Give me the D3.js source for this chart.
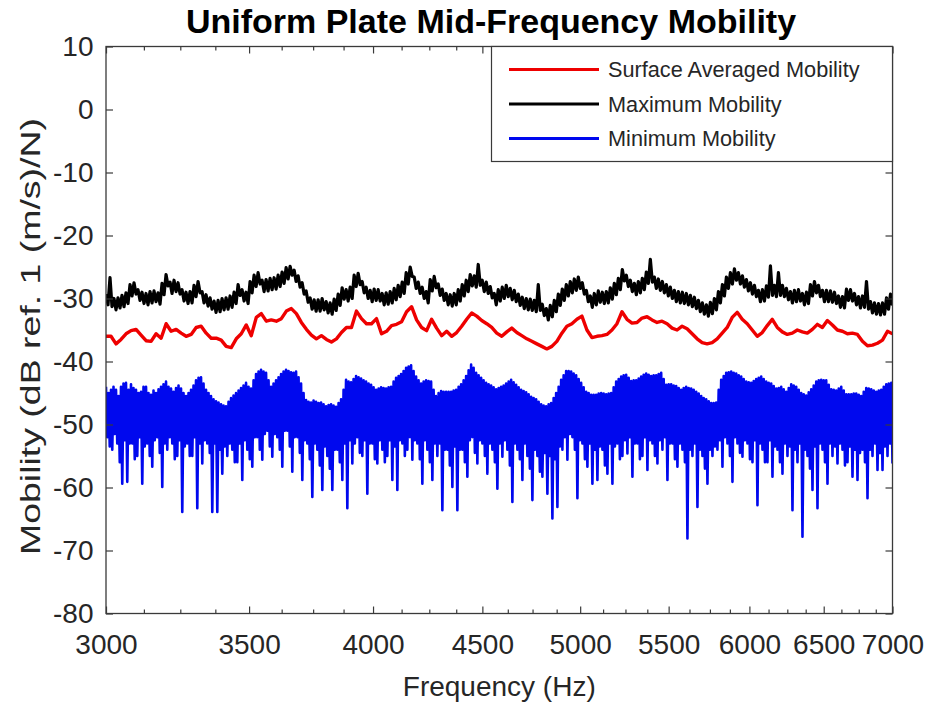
<!DOCTYPE html>
<html>
<head>
<meta charset="utf-8">
<script src="https://cdn.jsdelivr.net/npm/d3@7"></script>
<style>
  html, body { margin: 0; padding: 0; background: #fff; }
  svg { display: block; font-family: "Liberation Sans", Arial, Helvetica, sans-serif; }
</style>
</head>
<body>
<svg id="chart" width="927" height="705"></svg>
<script>
// ---- data -------------------------------------------------------------
const freqRange = [3000, 7000];
const xMajorTicks = [3000, 3500, 4000, 4500, 5000, 5500, 6000, 6500, 7000];
const xMinorTicks = [3125, 3250, 3375, 3625, 3750, 3875, 4125, 4250, 4375,
  4625, 4750, 4875, 5125, 5250, 5375, 5625, 5750, 5875, 6125, 6250, 6375,
  6625, 6750, 6875];
const yTicks = [-80, -70, -60, -50, -40, -30, -20, -10, 0, 10];
const seriesNames = ["Surface Averaged Mobility", "Maximum Mobility", "Minimum Mobility"];

// Surface averaged mobility, dB ref. 1 (m/s)/N (log-spaced frequency samples)
const surfaceAveraged = [
  -36.0,-36.0,-37.2,-36.5,-35.6,-35.1,-34.9,-35.8,-36.7,-36.8,
  -35.6,-36.3,-34.0,-35.2,-34.9,-35.5,-36.0,-35.7,-34.6,-34.4,
  -35.5,-36.3,-36.3,-36.6,-37.6,-37.8,-36.4,-35.6,-34.2,-35.9,
  -33.0,-32.4,-33.6,-33.4,-33.6,-33.2,-32.0,-31.6,-32.4,-33.8,
  -34.9,-35.8,-36.4,-35.9,-36.5,-36.9,-36.4,-35.4,-34.6,-34.6,
  -32.0,-33.2,-34.0,-34.0,-33.2,-35.6,-35.2,-34.3,-34.1,-33.7,
  -32.1,-31.3,-33.4,-34.6,-35.1,-33.3,-34.7,-35.9,-35.2,-36.0,
  -35.4,-34.4,-33.3,-32.3,-32.8,-33.5,-34.0,-34.6,-35.5,-36.0,
  -35.3,-34.7,-35.4,-35.9,-36.4,-36.8,-37.2,-37.6,-38.0,-37.6,
  -36.8,-35.5,-34.4,-34.0,-33.3,-32.8,-35.0,-36.2,-36.0,-35.9,
  -35.7,-35.0,-34.0,-32.1,-33.3,-33.9,-33.8,-33.1,-32.9,-33.4,
  -33.8,-33.6,-34.0,-34.7,-35.0,-34.4,-34.8,-35.6,-36.4,-37.0,
  -37.2,-37.0,-36.4,-35.5,-34.6,-33.0,-32.2,-33.3,-34.0,-35.0,
  -36.0,-35.4,-34.3,-33.3,-34.6,-35.3,-35.7,-35.5,-35.0,-35.3,
  -35.5,-34.9,-34.1,-34.6,-33.5,-34.2,-35.0,-35.2,-35.6,-35.5,
  -35.7,-36.8,-37.5,-37.4,-37.1,-36.6,-35.2,-35.6
];

// Maximum mobility over the plate
const maximumMobility = [
  -29.3,-31.0,-26.7,-31.3,-30.0,-31.8,-29.9,-31.5,-29.5,-31.3,-29.1,-30.8,-27.8,-29.6,-27.5,-29.3,-28.6,-30.3,-29.0,-30.8,
  -29.2,-31.0,-28.9,-30.7,-28.8,-30.5,-29.1,-30.9,-27.6,-29.4,-26.2,-28.0,-27.4,-29.2,-27.1,-28.9,-27.5,-29.3,-28.6,-30.4,
  -29.0,-30.8,-28.9,-30.7,-27.9,-29.7,-27.3,-29.1,-28.9,-30.7,-29.4,-31.2,-29.9,-31.7,-30.4,-32.2,-30.3,-32.1,-30.0,-31.8,
  -29.9,-31.7,-29.6,-31.4,-29.0,-30.8,-27.8,-29.5,-28.6,-30.4,-29.0,-30.8,-27.3,-29.1,-26.3,-28.1,-25.9,-27.7,-27.1,-28.9,
  -27.0,-28.8,-26.8,-28.6,-26.7,-28.5,-26.3,-28.1,-25.8,-27.6,-25.1,-26.9,-24.9,-26.3,-25.5,-27.3,-26.4,-28.2,-27.5,-29.3,
  -28.8,-30.6,-29.9,-31.7,-30.2,-32.0,-30.2,-32.0,-30.0,-31.8,-30.5,-32.3,-30.7,-32.5,-30.1,-31.9,-29.3,-31.1,-28.3,-30.1,
  -28.6,-30.4,-28.2,-30.0,-26.3,-28.1,-26.0,-27.8,-27.3,-29.1,-28.2,-30.0,-28.7,-30.5,-28.5,-30.3,-28.6,-30.4,-29.2,-31.0,
  -29.1,-30.9,-28.9,-30.7,-28.4,-30.2,-27.9,-29.7,-27.4,-29.2,-25.9,-27.7,-25.0,-26.5,-26.6,-28.4,-27.4,-29.2,-28.2,-30.0,
  -28.9,-30.7,-27.0,-28.8,-26.5,-28.3,-27.7,-29.5,-28.5,-30.3,-29.2,-31.0,-29.4,-31.2,-29.2,-31.0,-28.6,-30.4,-27.8,-29.6,
  -27.1,-28.9,-26.2,-28.0,-26.4,-28.2,-24.6,-27.9,-27.1,-28.9,-27.4,-29.2,-28.1,-29.9,-29.2,-31.0,-28.6,-30.4,-28.2,-30.0,
  -27.9,-29.7,-28.4,-30.2,-28.7,-30.5,-29.3,-31.1,-29.8,-31.6,-30.0,-31.8,-30.1,-31.9,-30.3,-32.1,-27.8,-31.9,-30.9,-32.7,
  -31.6,-33.4,-31.1,-32.9,-30.3,-32.1,-29.3,-31.1,-28.5,-30.3,-27.8,-29.6,-27.3,-29.1,-26.9,-28.7,-26.6,-28.4,-27.5,-29.3,
  -28.7,-30.5,-29.6,-31.4,-29.2,-31.0,-28.8,-30.6,-29.0,-30.8,-28.9,-30.7,-28.3,-30.1,-27.6,-29.4,-26.8,-28.6,-25.4,-27.2,
  -26.3,-28.1,-27.1,-28.9,-27.6,-29.4,-27.3,-29.1,-26.8,-28.6,-25.8,-27.6,-23.8,-27.4,-26.6,-28.4,-26.9,-28.7,-27.3,-29.1,
  -27.8,-29.6,-28.2,-30.0,-28.7,-30.5,-28.9,-30.7,-29.0,-30.8,-29.2,-31.0,-29.5,-31.3,-29.8,-31.6,-30.3,-32.1,-30.7,-32.5,
  -31.0,-32.8,-30.6,-32.4,-30.0,-31.8,-28.9,-30.7,-27.8,-29.6,-26.6,-28.4,-25.9,-27.7,-25.3,-27.1,-25.9,-27.7,-26.4,-28.2,
  -27.0,-28.8,-27.5,-29.3,-27.9,-29.7,-28.7,-30.5,-28.6,-30.4,-28.0,-29.8,-24.8,-29.5,-27.9,-29.7,-25.9,-29.5,-27.9,-29.7,
  -28.4,-30.2,-28.9,-30.7,-28.7,-30.5,-28.6,-30.4,-29.2,-31.0,-29.0,-30.8,-27.8,-29.6,-27.3,-29.1,-27.9,-29.7,-28.7,-30.5,
  -28.7,-30.5,-28.8,-30.6,-29.0,-30.8,-29.6,-31.4,-29.7,-31.5,-28.5,-30.3,-28.6,-30.4,-29.2,-31.0,-29.7,-31.5,-29.6,-31.4,
  -27.3,-31.7,-30.5,-32.3,-30.7,-32.5,-30.8,-32.6,-30.7,-32.5,-29.9,-31.7,-29.3,-31.1
];

// Minimum mobility over the plate
const minimumMobility = [
  -44.0,-52.0,-45.0,-53.5,-44.5,-54.0,-44.0,-51.5,-44.5,-53.0,-45.5,-56.0,-44.0,-59.4,-43.5,-52.5,
  -43.4,-59.1,-44.5,-53.0,-43.6,-53.0,-44.2,-55.5,-44.5,-55.0,-45.0,-52.0,-44.8,-59.4,-44.0,-53.5,
  -44.0,-53.0,-45.0,-55.0,-45.3,-56.7,-44.6,-52.5,-45.0,-52.0,-44.4,-54.5,-44.0,-59.9,-43.6,-53.0,
  -43.2,-54.0,-44.0,-52.0,-44.3,-53.0,-44.8,-55.5,-44.2,-55.0,-43.8,-52.5,-44.3,-63.9,-45.0,-53.5,
  -45.5,-53.0,-45.0,-55.0,-44.5,-55.0,-43.8,-52.0,-43.0,-63.3,-42.6,-53.0,-42.5,-56.2,-43.5,-52.5,
  -44.5,-53.0,-45.0,-54.5,-45.5,-63.9,-46.0,-53.0,-46.3,-63.9,-46.5,-54.0,-46.8,-57.8,-47.0,-53.5,
  -47.1,-55.0,-46.4,-53.0,-45.8,-54.0,-45.4,-56.0,-45.0,-56.0,-44.6,-53.0,-44.2,-58.8,-43.8,-52.5,
  -43.4,-54.0,-44.0,-55.5,-44.3,-56.7,-43.0,-52.0,-42.0,-52.0,-41.6,-54.0,-41.3,-55.6,-41.6,-51.5,
  -41.8,-51.0,-43.0,-53.5,-44.0,-55.1,-43.5,-51.5,-43.0,-52.0,-42.5,-54.0,-42.0,-56.7,-41.6,-51.0,
  -41.3,-51.0,-41.5,-53.5,-41.7,-57.5,-41.8,-52.0,-41.6,-52.0,-42.5,-54.5,-43.5,-58.8,-45.0,-52.5,
  -46.1,-53.0,-46.4,-55.5,-46.5,-61.5,-46.2,-53.0,-46.4,-54.0,-46.6,-56.5,-46.5,-60.4,-46.8,-53.5,
  -47.1,-55.0,-46.9,-57.0,-46.8,-60.4,-47.0,-54.0,-47.2,-54.0,-46.6,-56.0,-46.0,-58.8,-44.5,-53.0,
  -42.9,-63.3,-43.2,-52.5,-43.3,-56.2,-42.8,-53.0,-42.3,-52.0,-42.5,-54.5,-42.7,-55.0,-43.0,-52.5,
  -43.2,-61.0,-43.5,-53.0,-43.7,-53.0,-44.1,-55.5,-44.5,-56.2,-44.3,-52.5,-44.1,-54.0,-44.2,-56.0,
  -44.3,-55.0,-44.1,-52.5,-44.0,-58.8,-43.2,-53.5,-42.6,-60.4,-42.3,-52.5,-42.0,-53.0,-41.5,-55.0,
  -41.0,-54.0,-40.8,-52.0,-40.6,-55.6,-41.5,-52.5,-42.4,-53.0,-43.0,-55.5,-43.5,-59.4,-43.2,-52.5,
  -43.0,-54.0,-43.1,-56.0,-43.2,-58.8,-44.5,-53.0,-45.5,-55.0,-45.0,-53.0,-44.7,-63.6,-44.8,-54.0,
  -44.8,-54.0,-44.8,-56.5,-44.8,-59.9,-44.6,-53.5,-44.5,-63.6,-44.0,-54.0,-43.6,-54.0,-43.0,-56.0,
  -42.3,-58.3,-41.4,-52.5,-40.5,-52.0,-41.0,-54.5,-41.8,-56.2,-42.2,-52.5,-42.6,-53.0,-43.0,-55.0,
  -43.4,-57.8,-43.6,-53.0,-43.8,-54.0,-44.1,-56.0,-44.4,-60.2,-44.2,-53.0,-44.0,-55.1,-43.8,-52.5,
  -43.5,-54.0,-43.2,-56.5,-42.9,-62.3,-43.3,-53.0,-43.7,-54.0,-44.1,-55.5,-44.5,-58.8,-44.7,-53.0,
  -44.9,-55.0,-45.2,-57.0,-45.6,-62.0,-45.8,-54.0,-46.0,-55.0,-46.4,-57.5,-46.8,-58.3,-47.0,-54.5,
  -47.1,-61.0,-46.8,-55.0,-46.6,-64.9,-45.8,-55.5,-45.0,-63.1,-44.0,-53.5,-42.9,-54.0,-42.2,-52.0,
  -41.5,-55.6,-41.5,-51.5,-41.6,-52.0,-41.9,-54.0,-42.2,-61.7,-42.8,-52.5,-43.4,-53.0,-44.1,-55.5,
  -44.8,-56.7,-45.0,-53.0,-45.3,-59.4,-45.3,-54.0,-45.3,-58.8,-45.1,-53.5,-45.0,-54.0,-45.1,-56.5,
  -45.2,-57.8,-45.1,-53.0,-45.0,-59.4,-44.1,-53.5,-43.2,-53.0,-42.8,-55.5,-42.4,-55.0,-42.2,-52.5,
  -42.1,-54.6,-42.6,-52.0,-43.1,-58.3,-43.0,-53.0,-43.0,-53.0,-42.7,-55.5,-42.4,-55.0,-42.1,-52.0,
  -41.9,-57.2,-42.1,-52.5,-42.3,-53.0,-42.2,-55.0,-42.2,-56.2,-42.0,-52.5,-41.8,-54.0,-42.8,-52.0,
  -43.7,-58.8,-43.6,-53.0,-43.6,-53.0,-43.8,-55.5,-43.9,-56.7,-44.2,-53.0,-44.5,-54.0,-44.2,-56.0,
  -44.0,-68.1,-44.2,-54.0,-44.3,-55.0,-44.5,-53.0,-44.8,-63.1,-45.1,-54.0,-45.5,-55.0,-45.8,-57.0,
  -46.0,-59.4,-46.3,-54.0,-46.6,-55.0,-46.6,-53.5,-46.5,-54.0,-44.5,-52.5,-42.9,-56.7,-42.3,-52.0,
  -41.8,-53.0,-41.7,-55.0,-41.6,-59.1,-41.8,-52.0,-41.9,-53.0,-42.2,-54.5,-42.4,-55.1,-42.8,-52.5,
  -43.2,-53.0,-43.3,-55.5,-43.4,-56.0,-43.1,-52.5,-42.8,-62.8,-42.6,-53.0,-42.4,-54.0,-42.8,-56.0,
  -43.2,-56.0,-43.4,-52.5,-43.5,-58.3,-43.9,-53.5,-44.3,-54.0,-44.2,-56.0,-44.0,-57.8,-44.4,-53.0,
  -44.8,-55.0,-44.2,-53.5,-43.6,-63.6,-43.8,-54.0,-44.0,-56.0,-44.5,-53.0,-45.0,-67.8,-45.2,-54.0,
  -45.4,-55.0,-44.9,-57.0,-44.4,-60.4,-43.8,-53.5,-43.2,-63.3,-43.0,-53.0,-42.9,-54.0,-43.0,-56.0,
  -43.0,-59.4,-43.7,-53.0,-44.4,-55.0,-44.5,-53.5,-44.6,-56.2,-44.3,-53.0,-44.0,-54.0,-44.6,-56.5,
  -45.2,-56.0,-45.2,-53.5,-45.2,-58.3,-45.1,-54.0,-45.1,-58.8,-45.3,-54.5,-45.5,-54.0,-44.8,-56.0,
  -44.2,-61.7,-44.3,-54.0,-44.4,-55.0,-44.6,-53.0,-44.8,-57.2,-44.6,-54.5,-44.5,-57.2,-44.0,-53.5,
  -43.6,-55.0,-43.5,-53.0,-43.4,-56.2
];

// ---- layout -----------------------------------------------------------
const plot = { left: 106, right: 892.5, top: 46.5, bottom: 613.5 };
const axisColor = "#3a3a3a";
const textColor = "#262626";

const svg = d3.select("#chart");

const x = d3.scaleLog().domain(freqRange).range([plot.left, plot.right]);
const y = d3.scaleLinear().domain([-80, 10]).range([plot.bottom, plot.top]);

// frequency samples are logarithmically spaced across the band
function logSpacedFrequencies(n) {
  const [f0, f1] = freqRange;
  return d3.range(n).map(i => f0 * Math.pow(f1 / f0, i / (n - 1)));
}
function toPoints(values) {
  const f = logSpacedFrequencies(values.length);
  return values.map((v, i) => [f[i], v]);
}

const series = [
  { name: seriesNames[0], color: "#ee0000", width: 3.4, points: toPoints(surfaceAveraged) },
  { name: seriesNames[1], color: "#000000", width: 3.2, points: toPoints(maximumMobility) },
  { name: seriesNames[2], color: "#0008ee", width: 2.6, points: toPoints(minimumMobility) }
];

svg.append("defs").append("clipPath").attr("id", "plot-clip")
  .append("rect")
  .attr("x", plot.left).attr("y", plot.top)
  .attr("width", plot.right - plot.left).attr("height", plot.bottom - plot.top);

// ---- data lines -------------------------------------------------------
const line = d3.line().x(d => x(d[0])).y(d => y(d[1]));
const lines = svg.append("g").attr("clip-path", "url(#plot-clip)");
series.forEach(s => {
  lines.append("path")
    .datum(s.points)
    .attr("fill", "none")
    .attr("stroke", s.color)
    .attr("stroke-width", s.width)
    .attr("stroke-linejoin", "round")
    .attr("d", line);
});

// ---- axes (ticks point inward on all four sides) ----------------------
function styleAxis(g, fontSize) {
  g.select(".domain").remove();
  g.selectAll(".tick line").attr("stroke", axisColor).attr("stroke-width", 1.2);
  g.selectAll(".tick text")
    .attr("fill", textColor)
    .style("font-size", fontSize + "px")
    .style("font-family", '"Liberation Sans", Arial, sans-serif');
}
const noLabel = () => "";
const plainNumber = d => String(d);

svg.append("g").attr("transform", `translate(0,${plot.bottom})`)
  .call(d3.axisBottom(x).tickValues(xMajorTicks).tickFormat(plainNumber)
    .tickSize(-7).tickSizeOuter(0).tickPadding(21))
  .call(g => styleAxis(g, 28));
svg.append("g").attr("transform", `translate(0,${plot.bottom})`)
  .call(d3.axisBottom(x).tickValues(xMinorTicks).tickFormat(noLabel).tickSize(-4).tickSizeOuter(0))
  .call(g => styleAxis(g, 28));
svg.append("g").attr("transform", `translate(0,${plot.top})`)
  .call(d3.axisTop(x).tickValues(xMajorTicks).tickFormat(noLabel).tickSize(-7).tickSizeOuter(0))
  .call(g => styleAxis(g, 28));
svg.append("g").attr("transform", `translate(0,${plot.top})`)
  .call(d3.axisTop(x).tickValues(xMinorTicks).tickFormat(noLabel).tickSize(-4).tickSizeOuter(0))
  .call(g => styleAxis(g, 28));
svg.append("g").attr("transform", `translate(${plot.left},0)`)
  .call(d3.axisLeft(y).tickValues(yTicks).tickFormat(plainNumber)
    .tickSize(-7).tickSizeOuter(0).tickPadding(12.5))
  .call(g => styleAxis(g, 28));
svg.append("g").attr("transform", `translate(${plot.right},0)`)
  .call(d3.axisRight(y).tickValues(yTicks).tickFormat(noLabel).tickSize(-7).tickSizeOuter(0))
  .call(g => styleAxis(g, 28));

// axes box
svg.append("rect")
  .attr("x", plot.left).attr("y", plot.top)
  .attr("width", plot.right - plot.left).attr("height", plot.bottom - plot.top)
  .attr("fill", "none").attr("stroke", axisColor).attr("stroke-width", 1.3);

// ---- titles -----------------------------------------------------------
const midX = (plot.left + plot.right) / 2;
svg.append("text")
  .attr("x", 491).attr("y", 33)
  .attr("text-anchor", "middle")
  .attr("font-weight", "bold").attr("font-size", 34).attr("fill", "#000")
  .text("Uniform Plate Mid-Frequency Mobility");

svg.append("text")
  .attr("x", midX).attr("y", 696)
  .attr("text-anchor", "middle")
  .attr("font-size", 28).attr("fill", textColor)
  .text("Frequency (Hz)");

svg.append("text")
  .attr("transform", `translate(40,336.5) rotate(-90)`)
  .attr("text-anchor", "middle")
  .attr("font-size", 27).attr("fill", textColor)
  .attr("textLength", 437).attr("lengthAdjust", "spacingAndGlyphs")
  .text("Mobility (dB ref. 1 (m/s)/N)");

// ---- legend -----------------------------------------------------------
const legend = svg.append("g");
legend.append("rect")
  .attr("x", 491.5).attr("y", 46.5).attr("width", 401).attr("height", 115)
  .attr("fill", "#fff").attr("stroke", axisColor).attr("stroke-width", 1.2);
series.forEach((s, i) => {
  const ly = 69.5 + i * 34.5;
  legend.append("line")
    .attr("x1", 509).attr("x2", 599).attr("y1", ly).attr("y2", ly)
    .attr("stroke", s.color).attr("stroke-width", 3);
  legend.append("text")
    .attr("x", 608).attr("y", ly).attr("dy", "0.35em")
    .attr("font-size", 21.7).attr("fill", textColor)
    .text(s.name);
});
</script>
</body>
</html>
